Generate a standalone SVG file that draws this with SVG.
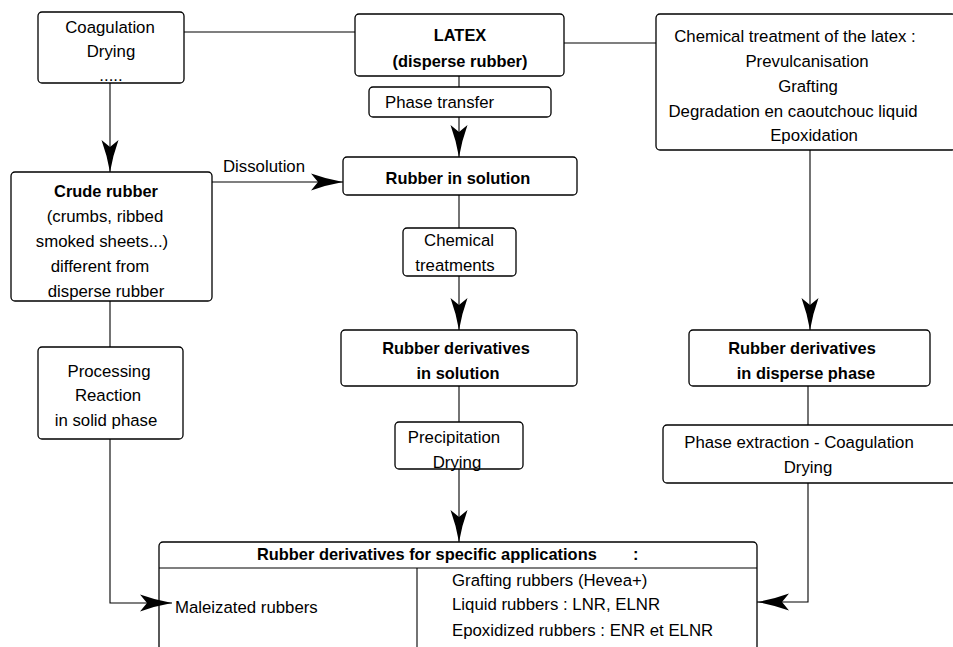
<svg xmlns="http://www.w3.org/2000/svg" width="953" height="647" viewBox="0 0 953 647">
<style>
.box{fill:#fff;stroke:#000;stroke-width:1.3}
.t{font-family:"Liberation Sans",Arial,sans-serif;font-size:16.8px;fill:#000;text-anchor:middle}
.b{font-weight:bold;font-size:16.4px}
.s{text-anchor:start}
.c{fill:none;stroke:#000;stroke-width:1.1}
</style>
<defs>
<marker id="ah" markerUnits="userSpaceOnUse" markerWidth="32" markerHeight="18" viewBox="0 0 32 18" refX="32" refY="9" orient="auto">
<path d="M0,0.5 Q15,6 32,9 Q15,12 0,17.5 L7,9 Z" fill="#000"/>
</marker>
</defs>
<rect width="953" height="647" fill="#fff"/>
<g id="coag">
<rect class="box" x="38" y="12" width="146" height="71" rx="4"/>
<text class="t" x="110" y="32.5">Coagulation</text>
<text class="t" x="111" y="57">Drying</text>
<text class="t" x="111" y="81">.....</text>
</g>
<g id="latex">
<rect class="box" x="355" y="14" width="209" height="62" rx="4"/>
<text class="t b" x="460" y="41">LATEX</text>
<text class="t b" x="460" y="67">(disperse rubber)</text>
</g>
<g id="phase_transfer">
<rect class="box" x="369" y="87" width="182" height="30" rx="4"/>
<text class="t s" x="385" y="108">Phase transfer</text>
</g>
<g id="chem_latex">
<rect class="box" x="656" y="14" width="300" height="136" rx="4"/>
<text class="t" x="795" y="42">Chemical treatment of the latex :</text>
<text class="t" x="807" y="67">Prevulcanisation</text>
<text class="t" x="808" y="92">Grafting</text>
<text class="t" x="793" y="117">Degradation en caoutchouc liquid</text>
<text class="t" x="814" y="141">Epoxidation</text>
</g>
<g id="crude">
<rect class="box" x="11" y="172" width="201" height="129" rx="4"/>
<text class="t b" x="106" y="197">Crude rubber</text>
<text class="t" x="105" y="222">(crumbs, ribbed</text>
<text class="t" x="102" y="247">smoked sheets...)</text>
<text class="t" x="100" y="272">different from</text>
<text class="t" x="106" y="297">disperse rubber</text>
</g>
<g id="solution">
<rect class="box" x="343" y="157" width="234" height="38" rx="4"/>
<text class="t b" x="458" y="184">Rubber in solution</text>
</g>
<g id="chem_treat">
<rect class="box" x="403" y="228" width="113" height="48" rx="4"/>
<text class="t" x="459" y="246">Chemical</text>
<text class="t" x="455" y="271">treatments</text>
</g>
<g id="deriv_solution">
<rect class="box" x="341" y="330" width="236" height="56" rx="4"/>
<text class="t b" x="456" y="354">Rubber derivatives</text>
<text class="t b" x="458" y="379">in solution</text>
</g>
<g id="precip">
<rect class="box" x="395" y="422" width="128" height="47" rx="4"/>
<text class="t" x="454" y="443">Precipitation</text>
<text class="t" x="457" y="468">Drying</text>
</g>
<g id="deriv_disperse">
<rect class="box" x="689" y="330" width="241" height="56" rx="4"/>
<text class="t b" x="802" y="354">Rubber derivatives</text>
<text class="t b" x="806" y="379">in disperse phase</text>
</g>
<g id="phase_extraction">
<rect class="box" x="663" y="425" width="295" height="58" rx="4"/>
<text class="t" x="799" y="448">Phase extraction - Coagulation</text>
<text class="t" x="808" y="473">Drying</text>
</g>
<g id="processing">
<rect class="box" x="38" y="347" width="145" height="92" rx="4"/>
<text class="t" x="109" y="377">Processing</text>
<text class="t" x="108" y="401">Reaction</text>
<text class="t" x="106" y="426">in solid phase</text>
</g>
<g id="applications">
<rect class="box" x="159" y="542" width="598" height="130" rx="4"/>
<line class="c" x1="159" y1="568" x2="757" y2="568"/>
<line class="c" x1="417" y1="568" x2="417" y2="647"/>
<text class="t b s" x="257" y="560">Rubber derivatives for specific applications</text>
<text class="t b s" x="633" y="560">:</text>
<text class="t s" x="175" y="613">Maleizated rubbers</text>
<text class="t s" x="452" y="586">Grafting rubbers (Hevea+)</text>
<text class="t s" x="452" y="610">Liquid rubbers : LNR, ELNR</text>
<text class="t s" x="452" y="636">Epoxidized rubbers : ENR et ELNR</text>
</g>
<g id="connectors">
<line class="c" x1="184" y1="32" x2="355" y2="32"/>
<line class="c" x1="564" y1="43" x2="656" y2="43"/>
<line class="c" x1="459" y1="76" x2="459" y2="87"/>
<line class="c" x1="459" y1="117" x2="459" y2="157" marker-end="url(#ah)"/>
<line class="c" x1="110" y1="83" x2="110" y2="172" marker-end="url(#ah)"/>
<line class="c" x1="212" y1="182" x2="343" y2="182" marker-end="url(#ah)"/>
<text class="t" x="264" y="172">Dissolution</text>
<line class="c" x1="459" y1="195" x2="459" y2="228"/>
<line class="c" x1="459" y1="276" x2="459" y2="330" marker-end="url(#ah)"/>
<line class="c" x1="810" y1="150" x2="810" y2="330" marker-end="url(#ah)"/>
<line class="c" x1="459" y1="386" x2="459" y2="422"/>
<line class="c" x1="459" y1="469" x2="459" y2="542" marker-end="url(#ah)"/>
<line class="c" x1="808" y1="386" x2="808" y2="425"/>
<polyline class="c" points="808,483 808,602 757,602" marker-end="url(#ah)"/>
<line class="c" x1="110" y1="301" x2="110" y2="347"/>
<polyline class="c" points="110,439 110,603 172,603" marker-end="url(#ah)"/>
</g>
</svg>
